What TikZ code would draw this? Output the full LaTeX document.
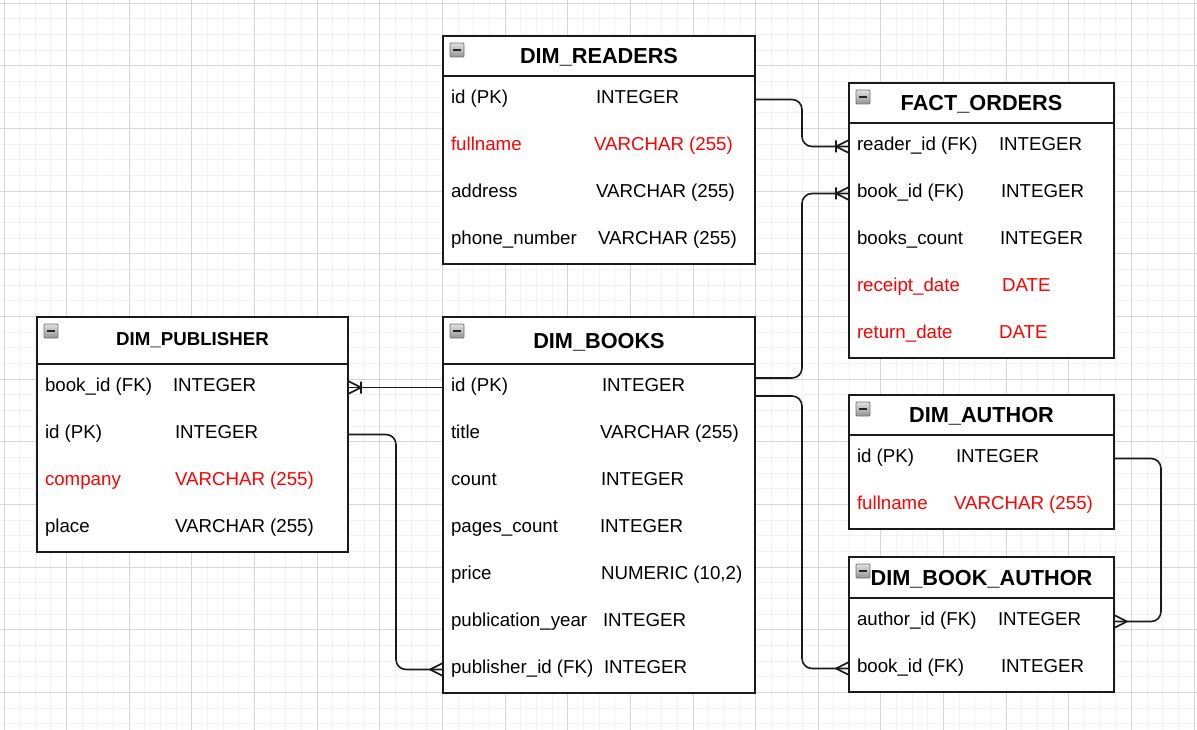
\documentclass[tikz,border=0pt]{standalone}
\usepackage{fontspec}
\setmainfont{Liberation Sans}
\usetikzlibrary{positioning}
\definecolor{erRed}{HTML}{FF0000}
\definecolor{erLine}{HTML}{1A1A1A}
\definecolor{gridMajor}{HTML}{D6D6D6}
\definecolor{gridMinor}{HTML}{F2F2F2}

\tikzset{
  crow/.pic={\draw[erLine, line width=1.6pt] (-13,0) -- (0,6.5) (-13,0) -- (0,-6.5);},
  crowbar/.pic={\draw[erLine, line width=1.6pt] (-13,0) -- (0,6.5) (-13,0) -- (0,-6.5)
                (-13,-6) -- (-13,6);}
}

\begin{document}
\begin{tikzpicture}[x=1pt, y=-1pt,
  every node/.style={inner sep=0pt, outer sep=0pt},
  tablebox/.style={draw=erLine, line width=1.3pt, fill=white, anchor=north west},
  headbox/.style={draw=erLine, line width=1.3pt, anchor=north west},
  rowbox/.style={anchor=north west, minimum height=47pt},
  title/.style={font=\fontsize{21.7}{26}\selectfont\bfseries, text height=15.5pt, text depth=0pt},
  field/.style={anchor=west, font=\fontsize{18.7}{22}\selectfont, text height=13.4pt, text depth=0pt},
  icon/.style={anchor=north west, minimum size=14pt, draw=black!55, line width=0.9pt,
               rounded corners=1pt, top color=black!12, bottom color=black!42,
               path picture={\draw[black!85, line width=1.8pt]
                 ([xshift=3pt]path picture bounding box.west) --
                 ([xshift=-3pt]path picture bounding box.east);}},
  link/.style={draw=erLine, line width=1.6pt, rounded corners=10pt}
]
\useasboundingbox (0,0) rectangle (1197,730);
\fill[white] (0,0) rectangle (1197,730);

% grid
\foreach \i in {0,...,76}
  \draw[gridMinor, line width=1pt] ({4+\i*15.66},0) -- ({4+\i*15.66},730);
\foreach \j in {0,...,46}
  \draw[gridMinor, line width=1pt] (0,{3.3+\j*15.66}) -- (1197,{3.3+\j*15.66});
\foreach \i in {0,...,19}
  \draw[gridMajor, line width=1pt] ({4+\i*62.64},0) -- ({4+\i*62.64},730);
\foreach \j in {0,...,11}
  \draw[gridMajor, line width=1pt] (0,{3.3+\j*62.64}) -- (1197,{3.3+\j*62.64});

% DIM_READERS
\node[tablebox, minimum width=312pt, minimum height=228pt] (rd) at (443,36) {};
\node[headbox, minimum width=312pt, minimum height=40pt] (rd-h) at (rd.north west) {};
\node[title] at (rd-h.center) {DIM\_READERS};
\node[icon] at ([shift={(7,7)}]rd.north west) {};
\foreach \f/\t/\tx/\col [count=\i from 0] in {
    id (PK)/INTEGER/153/black,
    fullname/VARCHAR (255)/151/erRed,
    address/VARCHAR (255)/153/black,
    phone\_number/VARCHAR (255)/155/black}{
  \node[rowbox, minimum width=312pt] (rd-\i) at ([yshift=-\i*47pt]rd-h.south west) {};
  \node[field, text=\col] at ([shift={(8,-2.5)}]rd-\i.west) {\f};
  \node[field, text=\col] at ([shift={(\tx,-2.5)}]rd-\i.west) {\t};
}

% FACT_ORDERS
\node[tablebox, minimum width=265pt, minimum height=275pt] (fo) at (849,83) {};
\node[headbox, minimum width=265pt, minimum height=40pt] (fo-h) at (fo.north west) {};
\node[title] at (fo-h.center) {FACT\_ORDERS};
\node[icon] at ([shift={(7,7)}]fo.north west) {};
\foreach \f/\t/\tx/\col [count=\i from 0] in {
    reader\_id (FK)/INTEGER/150/black,
    book\_id (FK)/INTEGER/152/black,
    books\_count/INTEGER/151/black,
    receipt\_date/DATE/153/erRed,
    return\_date/DATE/150/erRed}{
  \node[rowbox, minimum width=265pt] (fo-\i) at ([yshift=-\i*47pt]fo-h.south west) {};
  \node[field, text=\col] at ([shift={(8,-2.5)}]fo-\i.west) {\f};
  \node[field, text=\col] at ([shift={(\tx,-2.5)}]fo-\i.west) {\t};
}

% DIM_PUBLISHER
\node[tablebox, minimum width=311pt, minimum height=235pt] (pb) at (37,317) {};
\node[headbox, minimum width=311pt, minimum height=47pt] (pb-h) at (pb.north west) {};
\node[title, font=\fontsize{18.7}{22}\selectfont\bfseries, text height=13.4pt]
  at ([yshift=1.5pt]pb-h.center) {DIM\_PUBLISHER};
\node[icon] at ([shift={(7,7)}]pb.north west) {};
\foreach \f/\t/\tx/\col [count=\i from 0] in {
    book\_id (FK)/INTEGER/136/black,
    id (PK)/INTEGER/138/black,
    company/VARCHAR (255)/138/erRed,
    place/VARCHAR (255)/138/black}{
  \node[rowbox, minimum width=311pt] (pb-\i) at ([yshift=-\i*47pt]pb-h.south west) {};
  \node[field, text=\col] at ([shift={(8,-2.5)}]pb-\i.west) {\f};
  \node[field, text=\col] at ([shift={(\tx,-2.5)}]pb-\i.west) {\t};
}

% DIM_BOOKS
\node[tablebox, minimum width=312pt, minimum height=376pt] (bk) at (443,317) {};
\node[headbox, minimum width=312pt, minimum height=47pt] (bk-h) at (bk.north west) {};
\node[title] at (bk-h.center) {DIM\_BOOKS};
\node[icon] at ([shift={(7,7)}]bk.north west) {};
\foreach \f/\t/\tx/\col [count=\i from 0] in {
    id (PK)/INTEGER/159/black,
    title/VARCHAR (255)/157/black,
    count/INTEGER/158/black,
    pages\_count/INTEGER/157/black,
    price/{NUMERIC (10,2)}/158/black,
    publication\_year/INTEGER/160/black,
    publisher\_id (FK)/INTEGER/161/black}{
  \node[rowbox, minimum width=312pt] (bk-\i) at ([yshift=-\i*47pt]bk-h.south west) {};
  \node[field, text=\col] at ([shift={(8,-2.5)}]bk-\i.west) {\f};
  \node[field, text=\col] at ([shift={(\tx,-2.5)}]bk-\i.west) {\t};
}

% DIM_AUTHOR
\node[tablebox, minimum width=265pt, minimum height=134pt] (au) at (849,395) {};
\node[headbox, minimum width=265pt, minimum height=40pt] (au-h) at (au.north west) {};
\node[title] at (au-h.center) {DIM\_AUTHOR};
\node[icon] at ([shift={(7,7)}]au.north west) {};
\foreach \f/\t/\tx/\col [count=\i from 0] in {
    id (PK)/INTEGER/107/black,
    fullname/VARCHAR (255)/105/erRed}{
  \node[rowbox, minimum width=265pt] (au-\i) at ([yshift=-\i*47pt]au-h.south west) {};
  \node[field, text=\col] at ([shift={(8,-2.5)}]au-\i.west) {\f};
  \node[field, text=\col] at ([shift={(\tx,-2.5)}]au-\i.west) {\t};
}

% DIM_BOOK_AUTHOR
\node[tablebox, minimum width=265pt, minimum height=135pt] (ba) at (849,557) {};
\node[headbox, minimum width=265pt, minimum height=41pt] (ba-h) at (ba.north west) {};
\node[title] at (ba-h.center) {DIM\_BOOK\_AUTHOR};
\node[icon] at ([shift={(7,7)}]ba.north west) {};
\foreach \f/\t/\tx/\col [count=\i from 0] in {
    author\_id (FK)/INTEGER/149/black,
    book\_id (FK)/INTEGER/152/black}{
  \node[rowbox, minimum width=265pt] (ba-\i) at ([yshift=-\i*47pt]ba-h.south west) {};
  \node[field, text=\col] at ([shift={(8,-2.5)}]ba-\i.west) {\f};
  \node[field, text=\col] at ([shift={(\tx,-2.5)}]ba-\i.west) {\t};
}

% relations
\draw[link] (rd-0.east) -- ++(47,0) |- (fo-0.west);
\draw[link] ([yshift=9.5pt]bk-0.east) -- ++(47,0) |- (fo-1.west);
\draw[link] ([yshift=-8.5pt]bk-0.east) -- ++(47,0) |- (ba-1.west);
\draw[link] (bk-0.west) -- (pb-0.east);
\draw[link] (pb-1.east) -- ++(48,0) |- (bk-6.west);
\draw[link] (au-0.east) -- ++(47,0) |- (ba-0.east);

\pic at (fo-0.west) {crowbar};
\pic at (fo-1.west) {crowbar};
\pic at (ba-1.west) {crow};
\pic[rotate=180] at (pb-0.east) {crowbar};
\pic at (bk-6.west) {crow};
\pic[rotate=180] at (ba-0.east) {crow};
\end{tikzpicture}
\end{document}
